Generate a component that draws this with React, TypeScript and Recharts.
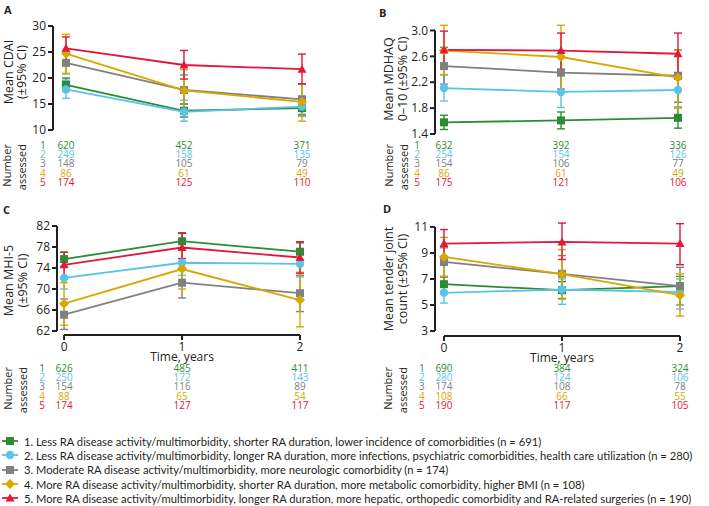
import { LineChart, Line, XAxis, YAxis, ErrorBar, ReferenceLine } from 'recharts'

const times = [0, 1, 2]

const groupNames = [
  '1. Less RA disease activity/multimorbidity, shorter RA duration, lower incidence of comorbidities (n = 691)',
  '2. Less RA disease activity/multimorbidity, longer RA duration, more infections, psychiatric comorbidities, health care utilization (n = 280)',
  '3. Moderate RA disease activity/multimorbidity, more neurologic comorbidity (n = 174)',
  '4. More RA disease activity/multimorbidity, shorter RA duration, more metabolic comorbidity, higher BMI (n = 108)',
  '5. More RA disease activity/multimorbidity, longer RA duration, more hepatic, orthopedic comorbidity and RA-related surgeries (n = 190)',
]
const groupColors = ['#2e8b35', '#5bc4e6', '#808080', '#d6a800', '#e3173a']
const groupShapes = ['square', 'circle', 'square', 'diamond', 'triangle']

// A: CDAI
const cdaiMean = [[18.7, 13.7, 14.2], [17.8, 13.5, 14.5], [22.9, 17.7, 15.9], [24.7, 17.6, 15.4], [25.7, 22.5, 21.7]]
const cdaiLow = [[17.5, 12.5, 12.7], [16.1, 11.7, 12.6], [20.8, 15.0, 13.0], [20.9, 13.9, 11.7], [23.4, 19.8, 18.9]]
const cdaiHigh = [[20.0, 15.0, 15.8], [19.6, 15.7, 16.5], [25.0, 20.6, 18.8], [28.4, 21.6, 18.9], [27.9, 25.3, 24.6]]
const cdaiN = [[620, 452, 371], [249, 158, 135], [148, 105, 79], [86, 61, 49], [174, 125, 110]]

// B: MDHAQ
const mdhaqMean = [[1.58, 1.61, 1.65], [2.11, 2.05, 2.08], [2.45, 2.35, 2.3], [2.69, 2.59, 2.27], [2.7, 2.69, 2.64]]
const mdhaqLow = [[1.47, 1.48, 1.49], [1.91, 1.81, 1.82], [2.17, 2.1, 1.89], [2.32, 2.1, 1.8], [2.41, 2.4, 2.32]]
const mdhaqHigh = [[1.69, 1.74, 1.82], [2.31, 2.3, 2.35], [2.74, 2.6, 2.7], [3.08, 3.08, 2.69], [2.99, 2.96, 2.96]]
const mdhaqN = [[632, 392, 336], [254, 154, 126], [154, 106, 77], [86, 61, 49], [175, 121, 106]]

// C: MHI-5
const mhiMean = [[75.7, 79.1, 77.1], [72.1, 75.0, 74.8], [65.1, 71.2, 69.2], [67.2, 73.8, 67.9], [74.6, 77.9, 76.0]]
const mhiLow = [[74.3, 77.6, 75.5], [70.0, 72.6, 72.3], [62.3, 68.3, 65.7], [63.1, 70.0, 62.8], [72.2, 75.8, 73.0]]
const mhiHigh = [[77.0, 80.6, 78.8], [74.2, 77.4, 77.2], [68.1, 74.1, 72.6], [71.2, 77.5, 73.2], [77.0, 80.7, 79.0]]
const mhiN = [[626, 485, 411], [250, 172, 143], [154, 116, 89], [88, 65, 54], [174, 127, 117]]

// D: tender joint count
const tjcMean = [[6.6, 6.14, 6.45], [5.94, 6.19, 6.0], [8.31, 7.4, 6.45], [8.7, 7.37, 5.76], [9.72, 9.85, 9.72]]
const tjcLow = [[6.0, 5.5, 5.7], [5.15, 5.05, 4.7], [7.2, 6.0, 5.0], [7.2, 5.45, 4.15], [8.6, 8.5, 8.1]]
const tjcHigh = [[7.15, 6.8, 7.2], [6.7, 7.0, 7.0], [9.4, 8.8, 7.9], [10.2, 9.25, 7.4], [10.8, 11.3, 11.25]]
const tjcN = [[690, 384, 324], [280, 124, 106], [174, 108, 78], [108, 66, 55], [190, 117, 105]]

const FONT = '"Open Sans", sans-serif'
const INK = '#231f20'

const drawMarker = (shape: string, color: string, cx: number, cy: number, key?: any) => {
  if (shape === 'circle') return <circle key={key} cx={cx} cy={cy} r={4.2} fill={color} />
  if (shape === 'diamond')
    return <polygon key={key} points={`${cx},${cy - 5} ${cx + 5},${cy} ${cx},${cy + 5} ${cx - 5},${cy}`} fill={color} />
  if (shape === 'triangle')
    return <polygon key={key} points={`${cx},${cy - 4.5} ${cx + 4.5},${cy + 3.5} ${cx - 4.5},${cy + 3.5}`} fill={color} />
  return <rect key={key} x={cx - 4} y={cy - 4} width={8} height={8} fill={color} />
}

const makeDot = (g: number) => (props: any) => {
  const { cx, cy, index } = props
  if (cx == null || cy == null) return <g key={index} />
  return drawMarker(groupShapes[g], groupColors[g], cx, cy, `d${g}-${index}`)
}

type PanelProps = {
  letter: string
  letterPos: [number, number]
  left: number
  top: number
  width: number
  height: number
  margin: { top: number; right: number; bottom: number; left: number }
  yWidth: number
  xHeight: number
  xMin: number
  yDomain: [number, number]
  yTicks: number[]
  digits: number
  titles: string[]
  titleX: number[]
  titleDy: number
  mean: number[][]
  low: number[][]
  high: number[][]
  counts: number[][]
  timeAxis: boolean
  rowStart: number
  idxDx: number
  numDx: number
}

const Panel = (p: PanelProps) => {
  const rows = times.map((t, i) => {
    const r: any = { t }
    p.mean.forEach((m, g) => {
      r['m' + g] = m[i]
      r['e' + g] = [m[i] - p.low[g][i], p.high[g][i] - m[i]]
    })
    return r
  })
  const yMin = p.yTicks[0]
  const yMax = p.yTicks[p.yTicks.length - 1]

  const renderTick = (props: any) => {
    const { x, y, payload } = props
    const i = times.indexOf(payload.value)
    return (
      <g fontFamily={FONT}>
        {p.timeAxis && <line x1={x} x2={x} y1={y} y2={y + 5} stroke={INK} strokeWidth={2} />}
        {p.timeAxis && (
          <text x={x} y={y + 16} textAnchor="middle" fontSize={12} fill={INK}>
            {payload.value}
          </text>
        )}
        {p.timeAxis && payload.value === 1 && (
          <text x={x} y={y + 25.5} textAnchor="middle" fontSize={12} fill={INK}>
            Time, years
          </text>
        )}
        {payload.value === 0 && (
          <g fontSize={11} fill={INK} textAnchor="end" dominantBaseline="central">
            <text transform={`translate(${x + p.numDx},${y + p.rowStart - 1}) rotate(-90)`}>Number</text>
            <text transform={`translate(${x + p.numDx + 15},${y + p.rowStart - 1}) rotate(-90)`}>assessed</text>
          </g>
        )}
        {p.counts.map((row, g) => (
          <g key={g}>
            {payload.value === 0 && (
              <text x={x + p.idxDx} y={y + p.rowStart + g * 9.3 + 3.6} textAnchor="middle" fontSize={10} fill={groupColors[g]}>
                {g + 1}
              </text>
            )}
            <text x={x} y={y + p.rowStart + g * 9.3 + 3.6} textAnchor="middle" fontSize={10} fill={groupColors[g]}>
              {row[i]}
            </text>
          </g>
        ))}
      </g>
    )
  }

  const renderTitle = (props: any) => {
    const vb = props.viewBox || {}
    const cy = (vb.y ?? 0) + (vb.height ?? 0) / 2 + p.titleDy
    return (
      <g fontFamily={FONT} fontSize={12.5} fill={INK} textAnchor="middle" dominantBaseline="central">
        {p.titles.map((s, k) => (
          <text key={k} transform={`translate(${p.titleX[k]},${cy}) rotate(-90)`}>
            {s}
          </text>
        ))}
      </g>
    )
  }

  return (
    <div style={{ position: 'absolute', left: p.left, top: p.top, width: p.width, height: p.height }}>
      <div
        style={{
          position: 'absolute',
          left: p.letterPos[0],
          top: p.letterPos[1],
          fontFamily: FONT,
          fontWeight: 700,
          fontSize: 11,
          color: INK,
        }}
      >
        {p.letter}
      </div>
      <LineChart width={p.width} height={p.height} data={rows} margin={p.margin} style={{ overflow: 'visible' }}>
        <XAxis
          dataKey="t"
          type="number"
          domain={[p.xMin, 2]}
          ticks={times}
          axisLine={false}
          tickLine={false}
          tickSize={0}
          tickMargin={0}
          height={p.xHeight}
          tick={renderTick}
          interval={0}
        />
        <YAxis
          type="number"
          domain={p.yDomain}
          ticks={p.yTicks}
          width={p.yWidth}
          axisLine={false}
          tickSize={5}
          tickMargin={2}
          tickLine={{ stroke: INK, strokeWidth: 2 }}
          tick={{ fontSize: 12, fill: INK, fontFamily: FONT }}
          tickFormatter={(v: number) => v.toFixed(p.digits)}
          label={{ content: renderTitle }}
          interval={0}
        />
        <ReferenceLine
          segment={[
            { x: p.xMin, y: yMin },
            { x: p.xMin, y: yMax },
          ]}
          stroke={INK}
          strokeWidth={2}
          ifOverflow="visible"
        />
        {p.timeAxis && (
          <ReferenceLine
            segment={[
              { x: 0, y: p.yDomain[0] },
              { x: 2, y: p.yDomain[0] },
            ]}
            stroke={INK}
            strokeWidth={2}
            ifOverflow="visible"
          />
        )}
        {p.mean.map((_, g) => (
          <Line
            key={g}
            dataKey={'m' + g}
            stroke={groupColors[g]}
            strokeWidth={1.8}
            dot={makeDot(g)}
            activeDot={false}
            isAnimationActive={false}
          >
            <ErrorBar dataKey={'e' + g} direction="y" width={4} stroke={groupColors[g]} strokeWidth={1.4} isAnimationActive={false} />
          </Line>
        ))}
      </LineChart>
    </div>
  )
}

const Legend = () => (
  <div style={{ position: 'absolute', left: 0, top: 434, fontFamily: 'Lato, sans-serif', fontSize: 11.2, color: INK }}>
    {groupNames.map((name, g) => (
      <div key={g} style={{ display: 'flex', alignItems: 'center', height: 14.3, whiteSpace: 'nowrap' }}>
        <svg width={24} height={10} style={{ flex: 'none' }}>
          <line x1={2} x2={18} y1={5} y2={5} stroke={groupColors[g]} strokeWidth={1.8} />
          {drawMarker(groupShapes[g], groupColors[g], 10, 5)}
        </svg>
        <span>{name}</span>
      </div>
    ))}
  </div>
)

export default function App() {
  return (
    <div style={{ position: 'absolute', left: 0, top: 0, width: 709, height: 506, background: '#fff', overflow: 'hidden' }}>
      <Panel
        letter="A"
        letterPos={[4, 2]}
        left={0}
        top={0}
        width={355}
        height={195}
        margin={{ top: 26, right: 53, bottom: 0, left: 0 }}
        yWidth={53}
        xHeight={65}
        xMin={-0.11}
        yDomain={[10, 30]}
        yTicks={[10, 15, 20, 25, 30]}
        digits={0}
        titles={['Mean CDAI', '(±95% CI)']}
        titleX={[8, 21]}
        titleDy={-6}
        mean={cdaiMean}
        low={cdaiLow}
        high={cdaiHigh}
        counts={cdaiN}
        timeAxis={false}
        rowStart={15}
        idxDx={-23}
        numDx={-59}
      />
      <Panel
        letter="B"
        letterPos={[24, 5]}
        left={355}
        top={0}
        width={354}
        height={195}
        margin={{ top: 24, right: 31, bottom: 0, left: 0 }}
        yWidth={80}
        xHeight={61}
        xMin={-0.077}
        yDomain={[1.4, 3.1]}
        yTicks={[1.4, 1.8, 2.2, 2.6, 3.0]}
        digits={1}
        titles={['Mean MDHAQ', '0–10 (±95% CI)']}
        titleX={[33, 47]}
        titleDy={0}
        mean={mdhaqMean}
        low={mdhaqLow}
        high={mdhaqHigh}
        counts={mdhaqN}
        timeAxis={false}
        rowStart={11}
        idxDx={-27}
        numDx={-56}
      />
      <Panel
        letter="C"
        letterPos={[3, 2]}
        left={0}
        top={200}
        width={355}
        height={222}
        margin={{ top: 26, right: 55, bottom: 0, left: 0 }}
        yWidth={57}
        xHeight={87}
        xMin={-0.06}
        yDomain={[61.24, 82]}
        yTicks={[62, 66, 70, 74, 78, 82]}
        digits={0}
        titles={['Mean MHI-5', '(±95% CI)']}
        titleX={[8, 22]}
        titleDy={0}
        mean={mhiMean}
        low={mhiLow}
        high={mhiHigh}
        counts={mhiN}
        timeAxis={true}
        rowStart={33}
        idxDx={-22}
        numDx={-57}
      />
      <Panel
        letter="D"
        letterPos={[28, 1]}
        left={355}
        top={200}
        width={354}
        height={222}
        margin={{ top: 22, right: 29, bottom: 0, left: 0 }}
        yWidth={80}
        xHeight={86}
        xMin={-0.076}
        yDomain={[2.62, 11.38]}
        yTicks={[3, 5, 7, 9, 11]}
        digits={0}
        titles={['Mean tender joint', 'count (±95% CI)']}
        titleX={[33, 47]}
        titleDy={0}
        mean={tjcMean}
        low={tjcLow}
        high={tjcHigh}
        counts={tjcN}
        timeAxis={true}
        rowStart={32}
        idxDx={-22}
        numDx={-56}
      />
      <Legend />
    </div>
  )
}
